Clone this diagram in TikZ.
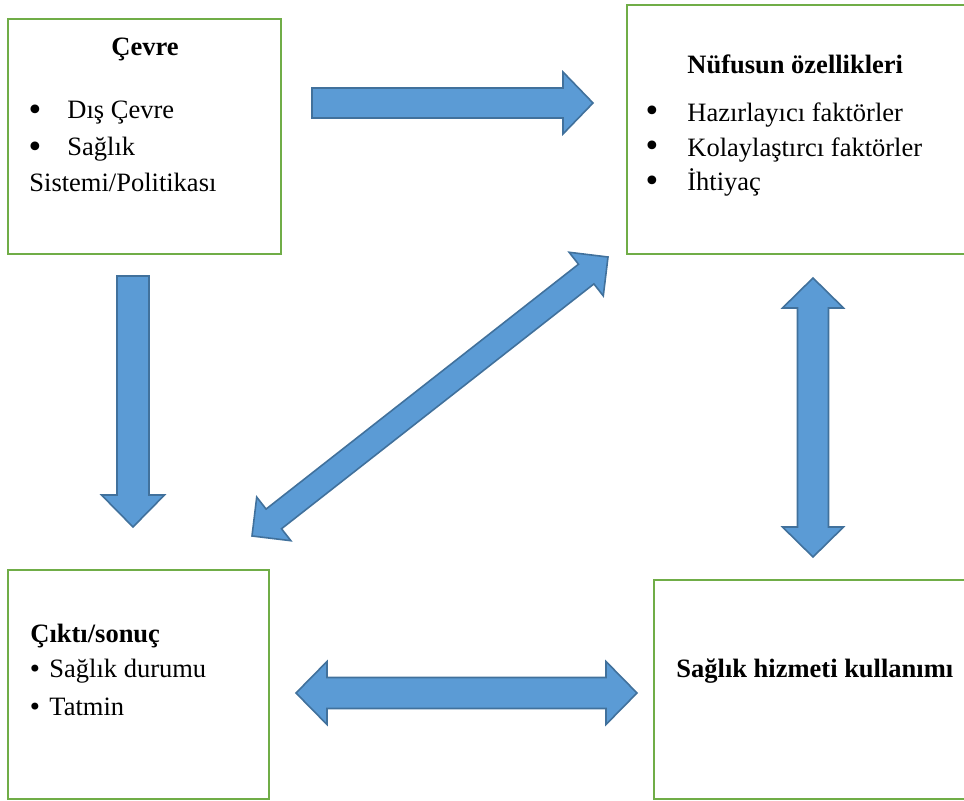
\documentclass[tikz,border=0pt]{standalone}
\usepackage{fontspec}
\setmainfont{Liberation Serif}
\newfontfamily\dotfont{DejaVu Sans}
\usepackage{xcolor}
\usetikzlibrary{calc,fit}

\definecolor{boxgreen}{HTML}{70AD47}
\definecolor{arrowblue}{HTML}{5B9BD5}
\definecolor{arrowedge}{HTML}{41719C}

% tail, tip, half shaft, half head, head length
\newcommand{\singlearrow}[5]{%
  \filldraw[block_arrow] ($(#1)!#3!90:(#2)$) -- ($(#2)!#5!(#1)!#3!-90:(#1)$)
    -- ($(#2)!#5!(#1)!#4!-90:(#1)$) -- (#2) -- ($(#2)!#5!(#1)!#4!90:(#1)$)
    -- ($(#2)!#5!(#1)!#3!90:(#1)$) -- ($(#1)!#3!-90:(#2)$) -- cycle;}
\newcommand{\doublearrow}[5]{%
  \filldraw[block_arrow] (#1) -- ($(#1)!#5!(#2)!#4!90:(#2)$) -- ($(#1)!#5!(#2)!#3!90:(#2)$)
    -- ($(#2)!#5!(#1)!#3!-90:(#1)$) -- ($(#2)!#5!(#1)!#4!-90:(#1)$) -- (#2)
    -- ($(#2)!#5!(#1)!#4!90:(#1)$) -- ($(#2)!#5!(#1)!#3!90:(#1)$)
    -- ($(#1)!#5!(#2)!#3!-90:(#2)$) -- ($(#1)!#5!(#2)!#4!-90:(#2)$) -- cycle;}

\begin{document}
\begin{tikzpicture}[x=0.5pt,y=-0.5pt]
      \tikzstyle{box}=[draw=boxgreen, line width=1pt, inner sep=0pt]
      \tikzstyle{block_arrow}=[fill=arrowblue, draw=arrowedge, line width=0.8pt, line join=miter]
      \tikzstyle{label_text}=[inner sep=0pt, anchor=base west, font=\fontsize{13.25}{16}\selectfont]
      \tikzstyle{title_text}=[label_text, font=\fontsize{13.25}{16}\selectfont\bfseries]
      \tikzstyle{item_dot}=[inner sep=0pt, anchor=base, font=\dotfont\fontsize{15}{16}\selectfont]
      \tikzstyle{small_dot}=[item_dot, font=\dotfont\fontsize{12}{16}\selectfont]

      \useasboundingbox (0,0) rectangle (964,801);

      \coordinate (cevre_nw) at (8,19);
      \coordinate (cevre_se) at (281,254);
      \node (cevre) [box, fit=(cevre_nw) (cevre_se)] {};
      \node (cevre_title) at (145,56) [title_text, anchor=base] {Çevre};
      \node (cevre_dot1) at (35,121) [item_dot] {•};
      \node (cevre_item1) at (67,119) [label_text] {Dış Çevre};
      \node (cevre_dot2) at (35,158) [item_dot] {•};
      \node (cevre_item2) at (67,156) [label_text] {Sağlık};
      \node (cevre_item3) at (29,192) [label_text] {Sistemi/Politikası};

      \coordinate (nufus_nw) at (627,5);
      \coordinate (nufus_se) at (975,254);
      \node (nufus) [box, fit=(nufus_nw) (nufus_se)] {};
      \node (nufus_title) at (687,74) [title_text] {Nüfusun özellikleri};
      \node (nufus_dot1) at (652,122) [item_dot] {•};
      \node (nufus_item1) at (687,122) [label_text] {Hazırlayıcı faktörler};
      \node (nufus_dot2) at (652,157) [item_dot] {•};
      \node (nufus_item2) at (687,157) [label_text] {Kolaylaştırcı faktörler};
      \node (nufus_dot3) at (652,192) [item_dot] {•};
      \node (nufus_item3) at (687,191) [label_text] {İhtiyaç};

      \coordinate (cikti_nw) at (8,570);
      \coordinate (cikti_se) at (269,799);
      \node (cikti) [box, fit=(cikti_nw) (cikti_se)] {};
      \node (cikti_title) at (30,643) [title_text] {Çıktı/sonuç};
      \node (cikti_dot1) at (35,678) [small_dot] {•};
      \node (cikti_item1) at (49,678) [label_text] {Sağlık durumu};
      \node (cikti_dot2) at (35,715) [small_dot] {•};
      \node (cikti_item2) at (49,715) [label_text] {Tatmin};

      \coordinate (hizmet_nw) at (654,580);
      \coordinate (hizmet_se) at (975,799);
      \node (hizmet) [box, fit=(hizmet_nw) (hizmet_se)] {};
      \node (hizmet_title) at (676,677) [title_text] {Sağlık hizmeti kullanımı};

      \coordinate (cevre_nufus_tail) at (312,103);
      \coordinate (cevre_nufus_tip) at (593,103);
      \singlearrow{cevre_nufus_tail}{cevre_nufus_tip}{7.5pt}{15.5pt}{15pt}

      \coordinate (cevre_cikti_tail) at (133,276);
      \coordinate (cevre_cikti_tip) at (133,527);
      \singlearrow{cevre_cikti_tail}{cevre_cikti_tip}{8pt}{15.75pt}{16pt}

      \coordinate (cikti_nufus_a) at (252,536);
      \coordinate (cikti_nufus_b) at (608,257);
      \doublearrow{cikti_nufus_a}{cikti_nufus_b}{6.25pt}{13.85pt}{13.85pt}

      \coordinate (nufus_hizmet_a) at (813,278);
      \coordinate (nufus_hizmet_b) at (813,557);
      \doublearrow{nufus_hizmet_a}{nufus_hizmet_b}{7.75pt}{15.25pt}{15pt}

      \coordinate (cikti_hizmet_a) at (296,693);
      \coordinate (cikti_hizmet_b) at (637,693);
      \doublearrow{cikti_hizmet_a}{cikti_hizmet_b}{7.75pt}{15.75pt}{15.5pt}
    \end{tikzpicture}
\end{document}
